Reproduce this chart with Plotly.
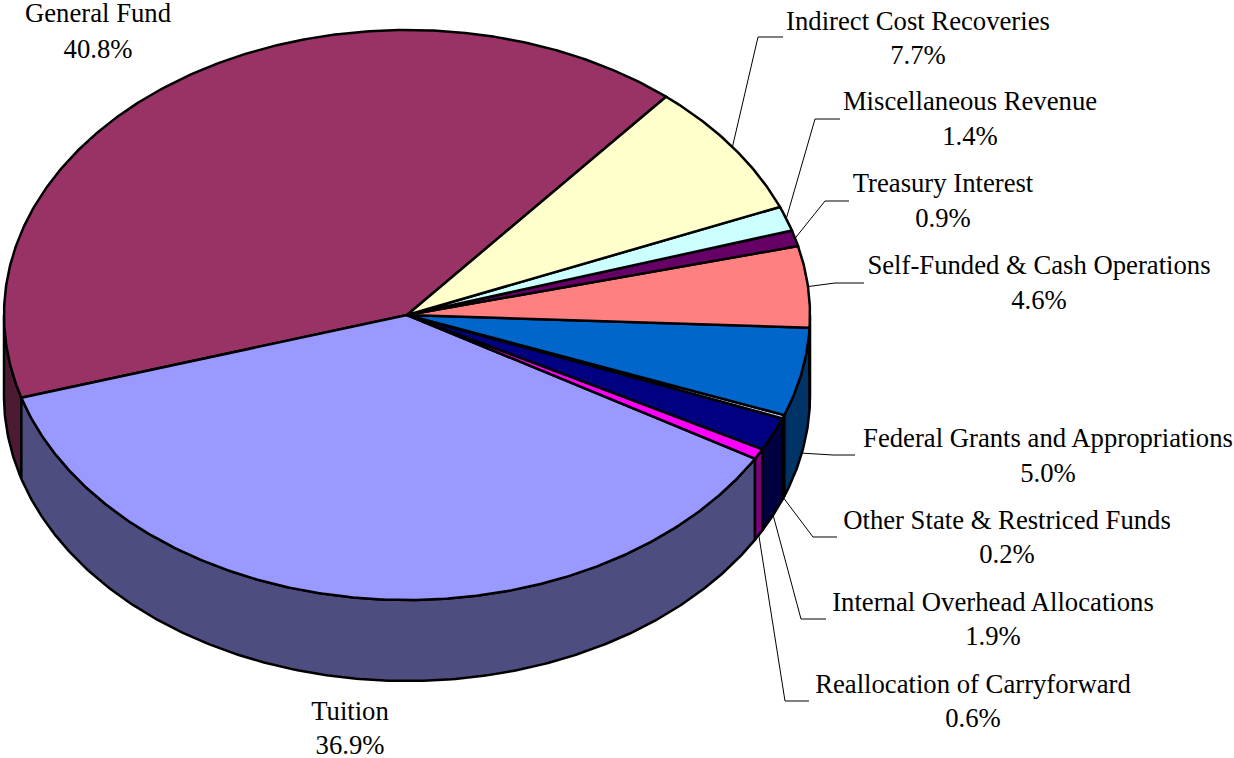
import numpy as np
import plotly.graph_objects as go

# slices, in drawing order going counter-clockwise from the top right
names = ['General Fund', 'Tuition', 'Reallocation of Carryforward', 'Internal Overhead Allocations',
         'Other State & Restriced Funds', 'Federal Grants and Appropriations', 'Self-Funded & Cash Operations',
         'Treasury Interest', 'Miscellaneous Revenue', 'Indirect Cost Recoveries']
values = [40.8, 36.9, 0.6, 1.9, 0.2, 5.0, 4.6, 0.9, 1.4, 7.7]
top_colors = ['#993366', '#9999FF', '#FF00FF', '#000080', '#CCCCFF', '#0066CC', '#FF8080', '#660066', '#CCFFFF', '#FFFFCC']
side_colors = ['#4D1A33', '#4D4D80', '#800080', '#000040', '#666680', '#003366', '#804040', '#330033', '#668080', '#808066']

# pie geometry in page pixels
CX, CY, RX, RY, DEPTH = 407, 315, 403, 285, 81
START = 50

# label centre x, name line y, percent line y, leader elbow, leader end (None = no leader)
label_pos = {
    'General Fund': (98, 15, 51, None),
    'Tuition': (350, 713, 747, None),
    'Reallocation of Carryforward': (973, 686, 720, ((785, 701), (809, 701))),
    'Internal Overhead Allocations': (993, 604, 638, ((801, 619), (826, 619))),
    'Other State & Restriced Funds': (1007, 522, 556, ((813, 537), (837, 537))),
    'Federal Grants and Appropriations': (1048, 440, 475, ((833, 455), (855, 455))),
    'Self-Funded & Cash Operations': (1039, 267, 302, ((835, 283), (864, 283))),
    'Treasury Interest': (943, 185, 220, ((825, 201), (849, 201))),
    'Miscellaneous Revenue': (970, 103, 138, ((815, 119), (840, 119))),
    'Indirect Cost Recoveries': (918, 23, 57, ((758, 37), (783, 37))),
}


def arc(t0, t1, drop=0):
    t = np.radians(np.linspace(t0, t1, max(int(abs(t1 - t0) * 2), 2)))
    return CX + RX * np.cos(t), CY - RY * np.sin(t) + drop


fig = go.Figure()
edges = START + np.concatenate([[0], np.cumsum(values)]) * 360 / sum(values)

# outer wall, only the front half of the pie shows
for i, name in enumerate(names):
    for lo, hi in ((180, 360), (540, 720)):
        t0, t1 = max(edges[i], lo), min(edges[i + 1], hi)
        if t1 <= t0:
            continue
        xa, ya = arc(t0, t1)
        xb, yb = arc(t1, t0, DEPTH)
        fig.add_trace(go.Scatter(x=np.r_[xa, xb, xa[0]], y=np.r_[ya, yb, ya[0]], mode='lines', fill='toself',
                                 fillcolor=side_colors[i], line=dict(color='black', width=2.5), hoverinfo='skip'))

# top face
for i, name in enumerate(names):
    xa, ya = arc(edges[i], edges[i + 1])
    fig.add_trace(go.Scatter(x=np.r_[CX, xa, CX], y=np.r_[CY, ya, CY], mode='lines', fill='toself',
                             fillcolor=top_colors[i], line=dict(color='black', width=2.5),
                             name=name, text=f'{name}: {values[i]:.1f}%', hoverinfo='text'))

# leaders and labels
for i, name in enumerate(names):
    lx, y1, y2, leader = label_pos[name]
    if leader:
        mid_deg = (edges[i] + edges[i + 1]) / 2
        mid = np.radians(mid_deg)
        ax = CX + RX * np.cos(mid)
        ay = CY - RY * np.sin(mid) + (DEPTH if np.sin(mid) < 0 and mid_deg < 360 else 0)
        fig.add_trace(go.Scatter(x=[ax, leader[0][0], leader[1][0]], y=[ay, leader[0][1], leader[1][1]], mode='lines',
                                 line=dict(color='black', width=1), hoverinfo='skip'))
    fig.add_trace(go.Scatter(x=[lx, lx], y=[y1, y2], mode='text', text=[name, f'{values[i]:.1f}%'],
                             textposition='middle center', cliponaxis=False, hoverinfo='skip',
                             textfont=dict(family='Liberation Serif', size=26.7, color='black')))

fig.update_layout(width=1234, height=758, margin=dict(l=0, r=0, t=0, b=0), showlegend=False,
                  paper_bgcolor='white', plot_bgcolor='white',
                  xaxis=dict(range=[0, 1234], visible=False, fixedrange=True),
                  yaxis=dict(range=[758, 0], visible=False, fixedrange=True))

# the page's default body margin would push the chart 8px in
fig.write_html("out.html", post_script="document.body.style.margin='0';", config={'displayModeBar': False})
